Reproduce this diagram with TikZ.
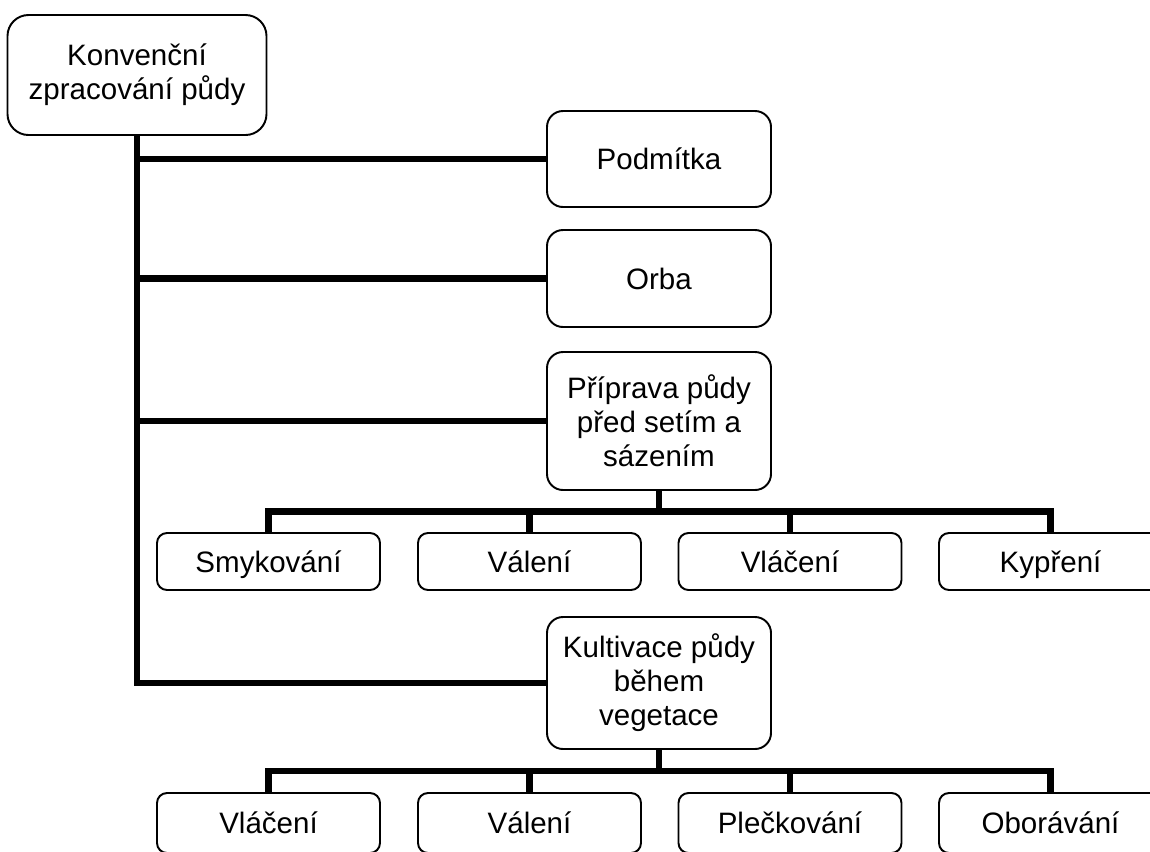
\documentclass[tikz,border=0pt]{standalone}
\usepackage{fontspec}
\setmainfont{Liberation Sans}
\usetikzlibrary{calc, positioning}

\begin{document}
\begin{tikzpicture}[
        box/.style={draw, line width=1.1pt, rounded corners=#1, align=center, inner sep=0pt,
            font=\fontsize{16.8}{19.4}\selectfont},
        bigbox/.style={box=0.32cm, minimum width=4.48cm},
        oneline/.style={text height=12pt, text depth=0pt},
        smallbox/.style={box=0.2cm, oneline, minimum width=4.46cm, minimum height=1.14cm},
        link/.style={line width=3.9pt}
    ]
    \clip (0, 0) rectangle (23, -17.02);

    \node[box=0.42cm, minimum width=5.18cm, minimum height=2.4cm] (konv) at (2.74, -1.5) {Konvenční\\zpracování půdy};

    \node[bigbox, oneline, minimum height=1.92cm] (podm) at (13.18, -3.18) {Podmítka};
    \node[bigbox, oneline, minimum height=1.94cm] (orba) at (13.18, -5.57) {Orba};
    \node[bigbox, minimum height=2.76cm] (prip) at (13.18, -8.42) {Příprava půdy\\před setím a\\sázením};
    \node[bigbox, minimum height=2.64cm] (kult) at (13.18, -13.66) {Kultivace půdy\\během\\vegetace};

    \node[smallbox] (smyk) at (5.37, -11.23) {Smykování};
    \node[smallbox] (val1) at (10.59, -11.23) {Válení};
    \node[smallbox] (vlac1) at (15.8, -11.23) {Vláčení};
    \node[smallbox] (kypr) at (21.01, -11.23) {Kypření};

    \node[smallbox, minimum height=1.2cm] (vlac2) at (5.37, -16.46) {Vláčení};
    \node[smallbox, minimum height=1.2cm] (val2) at (10.59, -16.46) {Válení};
    \node[smallbox, minimum height=1.2cm] (plec) at (15.8, -16.46) {Plečkování};
    \node[smallbox, minimum height=1.2cm] (obor) at (21.01, -16.46) {Oborávání};

    \foreach \n in {podm, orba, prip, kult}
        \draw[link] (konv.south) |- (\n.west);

    \foreach \n in {smyk, val1, vlac1, kypr}
        \draw[link] (prip.south) |- ($(prip.south)!0.5!(\n.north)$) -| (\n.north);

    \foreach \n in {vlac2, val2, plec, obor}
        \draw[link] (kult.south) |- ($(kult.south)!0.5!(\n.north)$) -| (\n.north);
\end{tikzpicture}
\end{document}
